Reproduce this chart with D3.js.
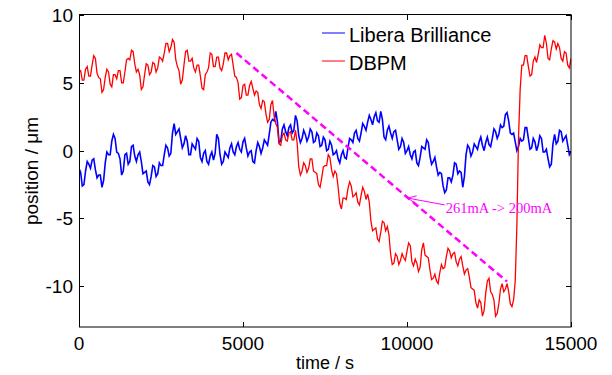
<!DOCTYPE html>
<html>
<head>
<meta charset="utf-8">
<title>position vs time</title>
<script src="https://cdn.jsdelivr.net/npm/d3@7"></script>
<style>
  body { margin: 0; background: #fff; }
  svg { font-family: "Liberation Sans", Arial, sans-serif; }
  .tick-label { font-size: 19px; fill: #000; }
</style>
</head>
<body>
<div id="chart"></div>
<script>
// time step of the samples (s)
const tStep = 50;

// DBPM, one value every 50 s from 0 to 15000 s (20 values per row = 1000 s)
const dbpm = [
  5.8,5.9, 5.2,5.2, 6.0,6.2, 5.5,5.5, 6.3,7.0, 6.8,5.7, 5.4,5.3, 4.3,4.5, 5.4,6.0, 5.8,4.9,
  4.7,5.6, 5.6,5.3, 5.9,5.9, 5.0,5.0, 5.8,6.7, 6.8,6.7, 7.4,7.3, 6.4,5.8, 6.0,5.6, 4.5,4.7,
  5.6,6.4, 6.3,5.6, 5.8,6.5, 6.4,5.8, 6.1,6.9, 6.8,6.6, 7.2,7.9, 7.9,7.3, 7.6,8.2, 8.0,6.7,
  6.2,5.9, 4.9,5.2, 6.3,7.3, 7.4,6.6, 6.6,6.8, 6.1,5.8, 6.3,6.3, 5.5,4.6, 4.5,5.6, 5.8,6.1,
  7.2,7.1, 6.2,6.2, 6.9,6.9, 6.1,5.9, 6.4,7.2, 7.2,6.7, 7.0,7.1, 6.3,5.5, 5.4,5.0, 3.8,3.9,
  4.8,4.9, 4.1,4.1, 4.8,5.1, 4.6,4.1, 4.4,4.3, 3.4,3.1, 3.7,3.6, 2.7,2.1, 2.3,3.4, 3.7,2.5,
  2.0,1.7, 0.5,0.4, 1.1,1.3, 0.8,0.7, 1.3,1.4, 0.8,0.8, 1.5,0.6, -1.2,-1.8, -1.5,-0.9, -1.1,-1.6,
  -1.3,-0.6, -0.6,-1.5, -1.6,-1.7, -2.5,-2.7, -2.0,-1.2, -1.1,-1.1, -0.3,-0.5, -1.4,-1.9, -1.5,-1.7, -2.7,-3.9,
  -4.3,-3.5, -3.5,-3.6, -2.8,-2.3, -2.6,-3.4, -3.3,-3.1, -3.8,-4.0, -3.3,-2.7, -3.0,-3.6, -3.2,-3.8, -5.2,-5.9,
  -5.8,-5.7, -6.5,-6.7, -6.0,-5.2, -5.3,-5.9, -5.6,-6.2, -7.6,-8.4, -8.3,-7.6, -7.8,-8.4, -8.1,-7.6, -7.9,-8.1,
  -7.4,-6.8, -7.0,-8.2, -8.5,-8.0, -8.3,-8.9, -8.6,-7.3, -6.8,-7.7, -7.8,-7.9, -8.8,-9.5, -9.4,-9.1, -9.6,-9.8,
  -9.0,-8.4, -8.7,-8.6, -7.8,-7.2, -7.4,-7.9, -7.6,-7.5, -8.2,-8.5, -8.0,-7.8, -8.5,-9.1, -8.8,-8.7, -9.3,-10.1,
  -10.2,-10.3, -11.2,-11.6, -11.0,-11.2, -12.2,-11.8, -10.5,-9.6, -9.4,-10.4, -10.6,-11.0, -12.2,-12.0, -11.3,-10.2, -9.8,-10.4,
  -10.2,-9.8, -10.4,-11.3, -11.5,-11.0, -9.6,-5.5, 1.0,4.5, 6.3,6.3, 7.0,7.0, 6.2,5.5, 5.6,6.6, 6.9,6.5,
  7.1,7.8, 7.6,7.6, 8.5,7.9, 6.8,6.7, 7.5,8.1, 8.0,7.5, 7.9,7.6, 6.8,6.6, 7.3,7.2, 6.3,6.1,
  6.8
];

// Libera Brilliance, same sampling
const libera = [
  -1.3,-1.6, -2.6,-2.5, -1.5,-0.8, -1.0,-1.3, -0.7,-0.6, -1.4,-2.0, -1.8,-1.8, -2.7,-2.2, -0.9,-0.1, -0.3,-0.3,
  0.7,1.2, 0.9,-0.1, -0.2,-0.6, -1.8,-1.5, -0.3,-0.2, -1.0,-0.8, 0.3,0.4, -0.4,-0.8, -0.3,-0.1, -0.8,-1.7,
  -1.6,-1.5, -2.3,-2.5, -1.9,-1.1, -1.2,-1.9, -1.7,-0.9, -1.1,-1.1, -0.3,0.4, 0.2,-0.4, -0.2,1.3, 2.0,1.2,
  1.4,1.6, 0.9,0.2, 0.5,1.1, 0.7,-0.3, -0.3,0.5, 0.3,0.1, 0.9,0.7, -0.5,-0.8, -0.2,0.0, -0.8,-1.0,
  -0.4,-0.1, -0.7,-0.2, 1.2,0.9, -0.3,-1.0, -0.8,-0.1, -0.3,-0.5, 0.2,0.5, -0.1,-0.3, 0.3,0.6, 0.1,-0.1,
  0.65,0.9, 0.2,-0.4, -0.1,0.0, -0.8,-0.9, 0.0,0.6, 0.3,-0.2, 0.2,0.8, 0.6,0.4, 1.2,2.1, 2.3,2.2,
  2.9,2.1, 0.6,0.7, 1.6,1.9, 1.4,1.1, 1.7,1.9, 1.3,1.5, 2.6,2.2, 1.1,0.6, 0.9,1.5, 1.2,0.7,
  1.0,1.6, 1.4,0.6, 0.7,1.3, 1.1,0.3, 0.4,1.0, 0.8,0.0, 0.1,0.7, 0.4,-0.3, -0.2,0.0, -0.6,-0.9,
  -0.3,0.0, -0.5,-0.6, 0.2,0.9, 0.8,0.6, 1.3,1.5, 0.9,0.7, 1.3,2.0, 1.8,1.5, 2.1,2.6, 2.3,1.9,
  2.5,2.8, 2.2,2.1, 2.9,2.3, 1.0,0.8, 1.5,1.8, 1.3,0.9, 1.4,1.5, 0.8,0.1, 0.3,0.9, 0.6,-0.2,
  0.0,0.3, -0.3,-0.6, -0.1,0.0, -0.9,-1.1, -0.5,0.3, 0.2,0.1, 0.8,0.6, -0.4,-1.0, -0.8,-0.5, -1.2,-1.8,
  -1.6,-1.7, -2.6,-3.1, -2.9,-2.0, -2.0,-2.3, -1.8,-0.9, -1.0,-1.7, -1.5,-1.6, -2.7,-1.9, -0.3,0.4, 0.2,-0.4,
  -0.1,0.5, 0.3,0.1, 0.65,1.0, 0.4,0.0, 0.6,1.0, 0.45,0.3, 0.9,1.6, 1.4,0.9, 1.2,1.9, 1.7,1.8,
  2.65,2.8, 2.2,1.3, 1.2,1.3, 0.65,0.0, 0.3,0.9, 0.7,0.8, 1.7,1.7, 0.9,0.1, 0.2,0.9, 0.65,0.0,
  0.4,1.1, 0.9,-0.1, -0.1,0.1, -0.6,-1.2, -1.0,0.5, 1.2,0.5, 0.7,1.5, 1.4,0.7, 0.9,1.1, 0.4,-0.3,
  -0.1
];

// dashed current-decay guide: [time, position]
const guide = [[4800, 7.2], [13050, -9.65]];
// annotation arrow: tail then tip
const arrowPts = [[11150, -4.0], [10030, -3.5]];
const noteText = "261mA -> 200mA";

const xTicks = [0, 5000, 10000, 15000];
const yTicks = [-10, -5, 0, 5, 10];
const legendNames = ["Libera Brilliance", "DBPM"];
const legendColors = ["#0000ff", "#ff0000"];

const width = 612, height = 375;
const svg = d3.select("#chart").append("svg")
  .attr("width", width).attr("height", height);

const x = d3.scaleLinear().domain([0, 15000]).range([79, 571]);
const y = d3.scaleLinear().domain([-13, 10]).range([327, 15]);

svg.append("clipPath").attr("id", "clip")
  .append("rect").attr("x", 79).attr("y", 15).attr("width", 492).attr("height", 312);

const line = d3.line()
  .x((d, i) => x(i * tStep))
  .y(d => y(d));

const plot = svg.append("g").attr("clip-path", "url(#clip)");

plot.append("path").datum(libera)
  .attr("d", line).attr("fill", "none")
  .attr("stroke", "#0000ff").attr("stroke-width", 1.6);

plot.append("path").datum(dbpm)
  .attr("d", line).attr("fill", "none")
  .attr("stroke", "#ff0000").attr("stroke-width", 1.3);

plot.append("line")
  .attr("x1", x(guide[0][0])).attr("y1", y(guide[0][1]))
  .attr("x2", x(guide[1][0])).attr("y2", y(guide[1][1]))
  .attr("stroke", "#ff00ff").attr("stroke-width", 2.5)
  .attr("stroke-dasharray", "7,4");

// arrow
const ax0 = x(arrowPts[0][0]), ay0 = y(arrowPts[0][1]);
const ax1 = x(arrowPts[1][0]), ay1 = y(arrowPts[1][1]);
svg.append("line")
  .attr("x1", ax0).attr("y1", ay0).attr("x2", ax1).attr("y2", ay1)
  .attr("stroke", "#ff00ff").attr("stroke-width", 1);
const ang = Math.atan2(ay0 - ay1, ax0 - ax1);
[0.45, -0.45].forEach(da => {
  svg.append("line")
    .attr("x1", ax1).attr("y1", ay1)
    .attr("x2", ax1 + 9 * Math.cos(ang + da)).attr("y2", ay1 + 9 * Math.sin(ang + da))
    .attr("stroke", "#ff00ff").attr("stroke-width", 1);
});
svg.append("text")
  .attr("x", ax0 + 1).attr("y", ay0 + 8)
  .attr("font-family", "'Liberation Serif', 'Times New Roman', serif")
  .attr("font-size", 14.5).attr("fill", "#ff00ff")
  .text(noteText);

// axes box with inward ticks
const axes = svg.append("g").attr("stroke", "#000").attr("stroke-width", 1);
axes.append("rect")
  .attr("x", 79.5).attr("y", 14.5).attr("width", 491.5).attr("height", 312.5)
  .attr("fill", "none");

xTicks.forEach(t => {
  const px = Math.round(x(t)) + 0.5;
  axes.append("line").attr("x1", px).attr("x2", px).attr("y1", 327).attr("y2", 322);
  axes.append("line").attr("x1", px).attr("x2", px).attr("y1", 15).attr("y2", 20);
  svg.append("text").attr("class", "tick-label")
    .attr("x", x(t)).attr("y", 350).attr("text-anchor", "middle").text(t);
});
yTicks.forEach(v => {
  const py = Math.round(y(v)) + 0.5;
  axes.append("line").attr("x1", 79).attr("x2", 84).attr("y1", py).attr("y2", py);
  axes.append("line").attr("x1", 571).attr("x2", 566).attr("y1", py).attr("y2", py);
  svg.append("text").attr("class", "tick-label")
    .attr("x", 73).attr("y", y(v) + 7).attr("text-anchor", "end").text(v);
});

// axis titles
svg.append("text")
  .attr("x", x(7500)).attr("y", 369).attr("text-anchor", "middle")
  .attr("font-size", 18).text("time / s");
svg.append("text")
  .attr("transform", "translate(38," + y(-1.5) + ") rotate(-90)")
  .attr("text-anchor", "middle").attr("font-size", 19)
  .text("position / \u03bcm");

// legend
const legend = svg.append("g");
legendNames.forEach((n, i) => {
  const ly = 33 + i * 28;
  legend.append("line")
    .attr("x1", 322).attr("x2", 345).attr("y1", ly).attr("y2", ly)
    .attr("stroke", legendColors[i]).attr("stroke-width", 1);
  legend.append("text")
    .attr("x", 349).attr("y", ly + 9).attr("font-size", 20).text(n);
});
</script>
</body>
</html>
